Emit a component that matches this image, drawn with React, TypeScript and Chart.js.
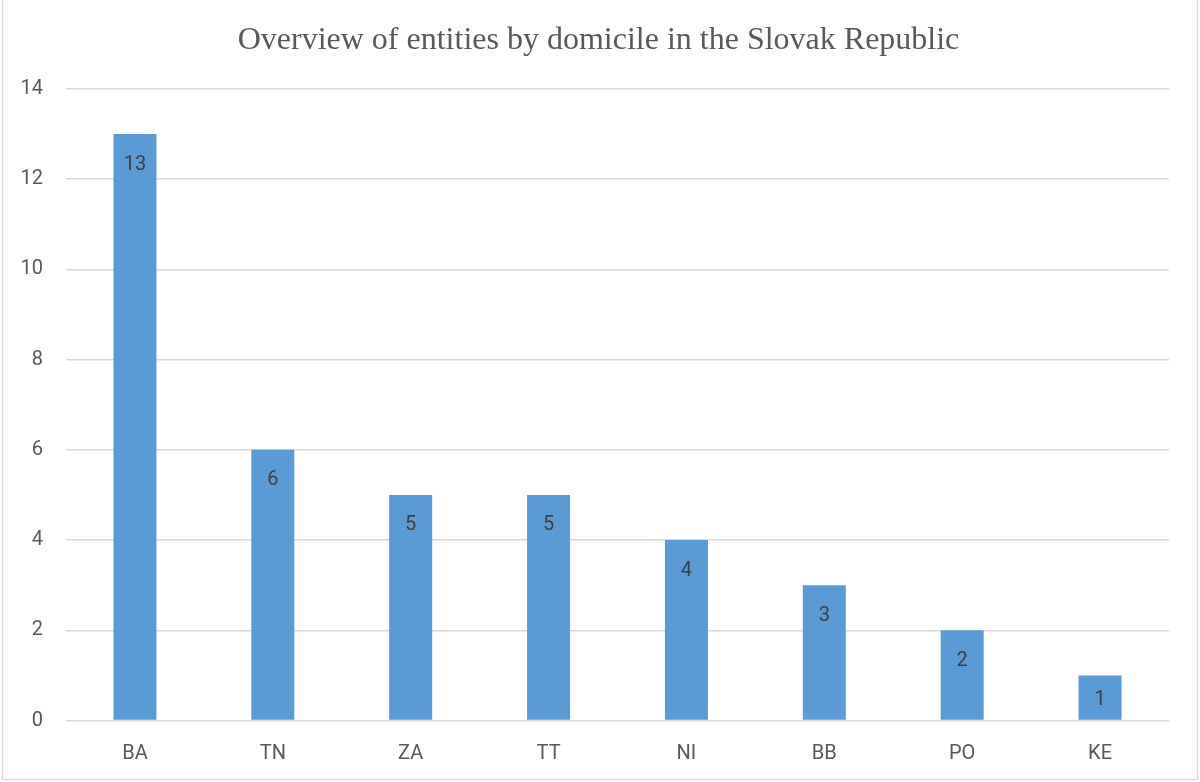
import React, { useEffect, useRef } from "react";
import { Chart, registerables } from "chart.js";

Chart.register(...registerables);

const regions: string[] = ["BA", "TN", "ZA", "TT", "NI", "BB", "PO", "KE"];
const entityCounts: number[] = [13, 6, 5, 5, 4, 3, 2, 1];
const yTicks: number[] = [0, 2, 4, 6, 8, 10, 12, 14];

const TEXT_GREY = "#595959";
const LABEL_DARK = "#404040";
const GRID_GREY = "#d9d9d9";
const BAR_BLUE = "#5b9bd5";
const SANS = "Roboto, 'Open Sans', sans-serif";

// Value labels placed just inside the top of each bar
const insideEndLabels = {
  id: "insideEndLabels",
  afterDatasetsDraw(chart: any) {
    const { ctx } = chart;
    const meta = chart.getDatasetMeta(0);
    const data = chart.data.datasets[0].data as number[];
    ctx.save();
    ctx.font = `20px ${SANS}`;
    ctx.fillStyle = LABEL_DARK;
    ctx.textAlign = "center";
    ctx.textBaseline = "middle";
    meta.data.forEach((bar: any, i: number) => {
      const top = Math.min(bar.y, bar.base);
      const bottom = Math.max(bar.y, bar.base);
      const y = Math.min(top + 30.5, (top + bottom) / 2 + 2);
      ctx.fillText(String(data[i]), bar.x, y);
    });
    ctx.restore();
  },
};

// Centre the title over the plot plus its left gutter
const titleCentering = {
  id: "titleCentering",
  afterLayout(chart: any) {
    const tb = chart.titleBlock;
    if (tb) {
      tb.left = 28;
      tb.right = chart.chartArea.right;
      tb.width = tb.right - tb.left;
    }
  },
};

// Thin frame around the whole chart
const chartFrame = {
  id: "chartFrame",
  afterDraw(chart: any) {
    const { ctx, width, height } = chart;
    ctx.save();
    ctx.strokeStyle = GRID_GREY;
    ctx.lineWidth = 1.5;
    ctx.strokeRect(2.5, -2, width - 5, height - 0.5);
    ctx.restore();
  },
};

export default function App() {
  const canvasRef = useRef<HTMLCanvasElement | null>(null);

  useEffect(() => {
    if (!canvasRef.current) return;
    const chart = new Chart(canvasRef.current, {
      type: "bar",
      data: {
        labels: regions,
        datasets: [
          {
            data: entityCounts,
            backgroundColor: BAR_BLUE,
            borderWidth: 0,
            categoryPercentage: 1,
            barPercentage: 0.312,
          },
        ],
      },
      options: {
        animation: false,
        responsive: false,
        maintainAspectRatio: false,
        layout: { padding: { left: 0, right: 31, top: 0, bottom: 0 } },
        plugins: {
          legend: { display: false },
          tooltip: { enabled: false },
          title: {
            display: true,
            text: "Overview of entities by domicile in the Slovak Republic",
            color: TEXT_GREY,
            font: { family: "'Liberation Serif', 'Times New Roman', serif", size: 32, weight: "normal" },
            padding: { top: 21, bottom: 29.6 },
          },
        },
        scales: {
          x: {
            grid: { display: false },
            border: { display: false },
            ticks: {
              color: TEXT_GREY,
              font: { family: SANS, size: 20 },
              padding: 13,
            },
            afterFit(scale: any) {
              scale.height = 61.5;
            },
          },
          y: {
            min: 0,
            max: 14,
            afterBuildTicks(scale: any) {
              scale.ticks = yTicks.map((v) => ({ value: v }));
            },
            grid: { color: GRID_GREY, lineWidth: 1.5, drawTicks: false },
            border: { display: false },
            ticks: {
              color: TEXT_GREY,
              font: { family: SANS, size: 20 },
              padding: 23,
            },
            afterFit(scale: any) {
              scale.width = 66;
            },
          },
        },
      },
      plugins: [insideEndLabels, titleCentering, chartFrame],
    });
    return () => chart.destroy();
  }, []);

  return (
    <div style={{ position: "fixed", left: 0, top: 0, width: 1200, height: 782, background: "#fff" }}>
      <canvas ref={canvasRef} width={1200} height={782} style={{ display: "block" }} />
    </div>
  );
}
